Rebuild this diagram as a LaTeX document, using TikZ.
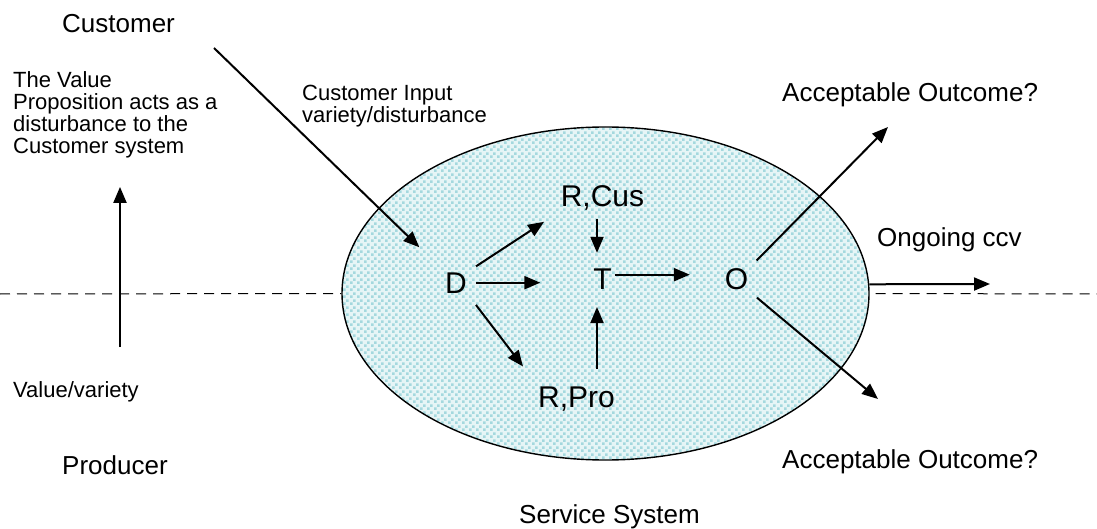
\documentclass[tikz,border=0pt]{standalone}
\usepackage{fontspec}
\setmainfont{Liberation Sans}
\usetikzlibrary{arrows.meta,shapes.geometric,patterns.meta}
\definecolor{dotcyan}{HTML}{A4D8DE}
\definecolor{dotfill}{HTML}{E6F5F6}
\tikzdeclarepattern{
  name=svcdots,
  type=uncolored,
  bounding box={(0pt,0pt) and (7pt,7pt)},
  tile size={(7pt,7pt)},
  code={\fill (0pt,0pt) rectangle (3pt,3pt); \fill (3.5pt,3.5pt) rectangle (6.5pt,6.5pt);}
}
\tikzset{
  bigtext/.style={font=\fontsize{30}{32}\selectfont,inner sep=0pt,outer sep=0pt},
  midtext/.style={font=\fontsize{26}{28}\selectfont,inner sep=0pt},
  smalltext/.style={font=\fontsize{22}{22}\selectfont,inner sep=0pt,align=left},
  svcarea/.style={ellipse,draw=black,line width=1.4pt,inner sep=0pt,minimum width=527pt,minimum height=333pt,preaction={fill=dotfill},pattern={svcdots},pattern color=dotcyan},
  flow/.style={-{Triangle[length=16pt,width=13pt]},line width=2pt,draw=black},
  splitline/.style={dash pattern=on 10pt off 7pt,line width=1pt,draw=black}
}
\begin{document}
\begin{tikzpicture}[x=1pt,y=-1pt]
  \useasboundingbox (0,0) rectangle (1097,529);
  \node[svcarea] (svc) at (605.5,293.5) {};
  \coordinate (lft) at (0,294);
  \coordinate (rgt) at (1097,294);
  \coordinate (cin) at (214,48);
  \coordinate (vbot) at (120,347);
  \coordinate (upout) at (888,127);
  \coordinate (lowout) at (878,399);
  \coordinate (ccvend) at (990,284);
  \node[midtext,anchor=base west] (cust) at (62,33) {Customer};
  \node[smalltext,anchor=north west] (vprop) at (13,71) {The Value\\Proposition acts as a\\disturbance to the\\Customer system};
  \node[smalltext,anchor=base west] (valvar) at (13,397) {Value/variety};
  \node[midtext,anchor=base west] (prod) at (62,474) {Producer};
  \node[smalltext,anchor=north west] (cinp) at (302,85) {Customer Input\\variety/disturbance};
  \node[bigtext,anchor=base] (D) at (456,293) {D};
  \node[bigtext,anchor=base] (RCus) at (602.5,207) {R,Cus};
  \node[bigtext,anchor=base] (T) at (602.5,290) {T};
  \node[bigtext,anchor=base] (RPro) at (576.5,407) {R,Pro};
  \node[bigtext,anchor=base] (O) at (736.5,290) {O};
  \node[midtext,anchor=base west] (acc1) at (782,102) {Acceptable Outcome?};
  \node[midtext,anchor=base west] (acc2) at (782,468) {Acceptable Outcome?};
  \node[midtext,anchor=base west] (ccv) at (877,247) {Ongoing ccv};
  \node[midtext,anchor=base west] (svcname) at (519,523) {Service System};
  \draw[splitline] (lft) -- (svc.west);
  \draw[splitline,shorten <=6pt] (svc.east) -- (rgt);
  \draw[flow,shorten >=36pt] (cin) -- (D.north west);
  \draw[flow,shorten >=29pt] (vbot) -- (vbot |- vprop.south);
  \draw[flow,shorten <=11pt,shorten >=20pt] (D.north east) -- (RCus.south west);
  \draw[flow,shorten <=9pt,shorten >=53pt] (D.east) -- (D.east -| T.west);
  \draw[flow,shorten <=15pt,shorten >=25pt] (D.south east) -- (RPro.north west);
  \draw[flow,shorten <=8.5pt,shorten >=16.5pt] ([xshift=-5.5pt]RCus.south) -- ([xshift=-5.5pt]T.north);
  \draw[flow,shorten <=17.5pt,shorten >=17pt] ([xshift=-5.5pt]T.south |- RPro.north) -- ([xshift=-5.5pt]T.south);
  \draw[flow,shorten <=3pt,shorten >=35pt] ([yshift=5pt]T.east) -- ([yshift=5pt]T.east -| O.west);
  \draw[flow,shorten <=12pt] (O.north east) -- (upout);
  \draw[flow,shorten <=11.5pt] (O.south east) -- (lowout);
  \draw[flow] (svc.2) -- (ccvend);
\end{tikzpicture}
\end{document}
